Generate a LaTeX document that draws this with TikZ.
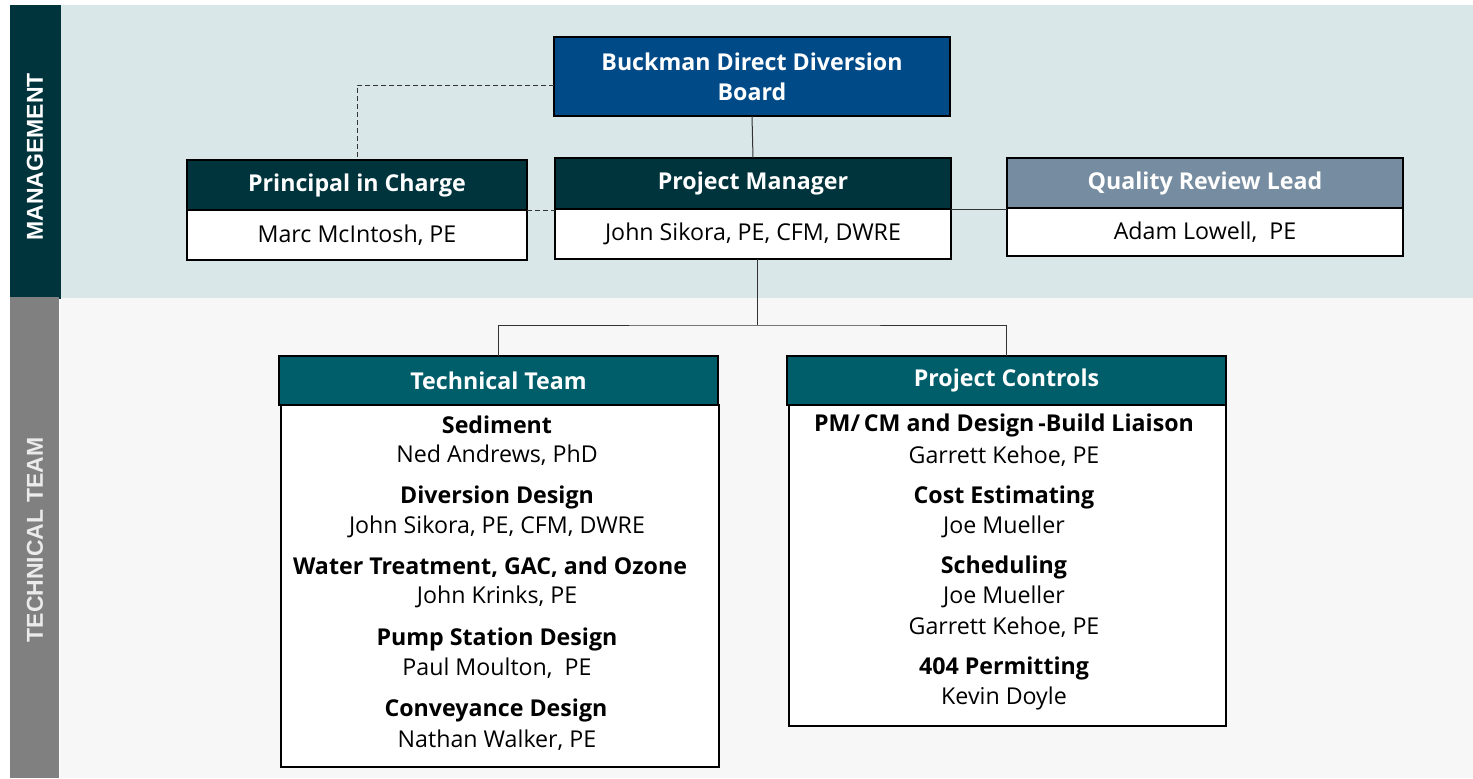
\documentclass[tikz,border=0pt]{standalone}
\usepackage{fontspec}
\setmainfont{Open Sans}
\newfontfamily\sidefont{Liberation Sans}
\definecolor{darkhdr}{HTML}{00343D}
\definecolor{tealhdr}{HTML}{005E6A}
\definecolor{boardblue}{HTML}{004A87}
\definecolor{qrlhdr}{HTML}{768CA0}
\definecolor{mgmtbg}{HTML}{D9E7E8}
\definecolor{techbg}{HTML}{F7F7F7}
\definecolor{sidegray}{HTML}{808080}
\definecolor{linegray}{HTML}{333333}
\begin{document}
\begin{tikzpicture}[x=0.5pt,y=-0.5pt,
  every node/.style={inner sep=0pt,outer sep=0pt},
  hdrbox/.style={draw=black,line width=0.6pt,text=white,font=\fontsize{11.6pt}{13pt}\selectfont\bfseries,anchor=center},
  bodybox/.style={draw=black,line width=0.6pt,fill=white,font=\fontsize{11.6pt}{13pt}\selectfont,anchor=center},
  role/.style={font=\fontsize{11.6pt}{13pt}\selectfont\bfseries,anchor=center},
  person/.style={font=\fontsize{11.6pt}{13pt}\selectfont,anchor=center},
  sidelabel/.style={font=\sidefont\fontsize{11.5pt}{13pt}\selectfont\bfseries,rotate=90,anchor=center},
  conn/.style={draw=linegray,line width=0.5pt},
  dashconn/.style={draw=linegray,line width=0.5pt,dash pattern=on 2.5pt off 1.5pt}
]
\useasboundingbox (0,0) rectangle (1473,778);
\fill[white] (0,0) rectangle (1473,778);
% backgrounds
\fill[mgmtbg] (60,5) rectangle (1473,298);
\fill[techbg] (60,298) rectangle (1473,778);
\fill[darkhdr] (10,5) rectangle (61,299);
\fill[sidegray] (10,297) rectangle (59,778);
\node[sidelabel,text=white] (lblmgmt) at (35,157) {MANAGEMENT};
\node[sidelabel,text=white!92!black] (lbltech) at (35,540) {TECHNICAL TEAM};

% management boxes
\node[hdrbox,fill=boardblue,minimum width=198pt,minimum height=39.5pt,align=center,
  font=\fontsize{11.6pt}{15pt}\selectfont\bfseries] (board) at (752,76.5) {Buckman Direct Diversion\\Board};

\node[hdrbox,fill=darkhdr,minimum width=170pt,minimum height=25pt] (pich) at (357,185) {Principal in Charge};
\node[bodybox,minimum width=170pt,minimum height=25pt] (picb) at (357,235) {Marc McIntosh, PE};

\node[hdrbox,fill=darkhdr,minimum width=198pt,minimum height=25.5pt] (pmh) at (753,183.5) {Project Manager};
\node[bodybox,minimum width=198pt,minimum height=25pt] (pmb) at (753,234) {John Sikora, PE, CFM, DWRE};

\node[hdrbox,fill=qrlhdr,minimum width=198pt,minimum height=25pt] (qrlh) at (1205,183) {Quality Review Lead};
\node[bodybox,minimum width=198pt,minimum height=24pt] (qrlb) at (1205,232) {Adam Lowell,~ PE};

% technical boxes
\node[hdrbox,fill=tealhdr,minimum width=219.5pt,minimum height=24.5pt] (tth) at (498.5,380.5) {Technical Team};
\node[bodybox,minimum width=219pt,minimum height=181pt] (ttb) at (500,586) {};

\node[hdrbox,fill=tealhdr,minimum width=219.5pt,minimum height=24.5pt] (pch) at (1006.5,380.5) {Project Controls};
\node[bodybox,minimum width=218.5pt,minimum height=160.5pt] (pcb) at (1007.5,565.5) {};

% connectors
\draw[conn] (board.south) -- (pmh.north);
\draw[dashconn] ([yshift=-4.25pt]board.west) -| (pich.north);
\draw[dashconn] (pich.south east) -- (pich.south east -| pmh.west);
\draw[conn] (pmh.south east) -- (pmh.south east -| qrlh.west);
\coordinate (split) at (757,325);
\draw[conn] (pmb.south -| split) -- (split);
\draw[conn] (tth.north) |- (split) -| (pch.north);

% technical team contents
\node[role]   (t1r) at (497,425) {Sediment};
\node[person] (t1p) at (497,455) {Ned Andrews, PhD};
\node[role]   (t2r) at (497,497) {Diversion Design};
\node[person] (t2p) at (497,527) {John Sikora, PE, CFM, DWRE};
\node[role]   (t3r) at (490,567) {Water Treatment, GAC, and Ozone};
\node[person] (t3p) at (497,597) {John Krinks, PE};
\node[role]   (t4r) at (497,639) {Pump Station Design};
\node[person] (t4p) at (497,668) {Paul Moulton,~ PE};
\node[role]   (t5r) at (496,710) {Conveyance Design};
\node[person] (t5p) at (497,740) {Nathan Walker, PE};

% project controls contents
\node[role]   (p1r) at (1004,425) {PM/\,CM and Design\,-Build Liaison};
\node[person] (p1p) at (1004,456) {Garrett Kehoe, PE};
\node[role]   (p2r) at (1004,497) {Cost Estimating};
\node[person] (p2p) at (1004,527) {Joe Mueller};
\node[role]   (p3r) at (1004,567) {Scheduling};
\node[person] (p3p) at (1004,597) {Joe Mueller};
\node[person] (p3q) at (1004,627) {Garrett Kehoe, PE};
\node[role]   (p4r) at (1004,668) {404 Permitting};
\node[person] (p4p) at (1004,698) {Kevin Doyle};
\end{tikzpicture}
\end{document}
